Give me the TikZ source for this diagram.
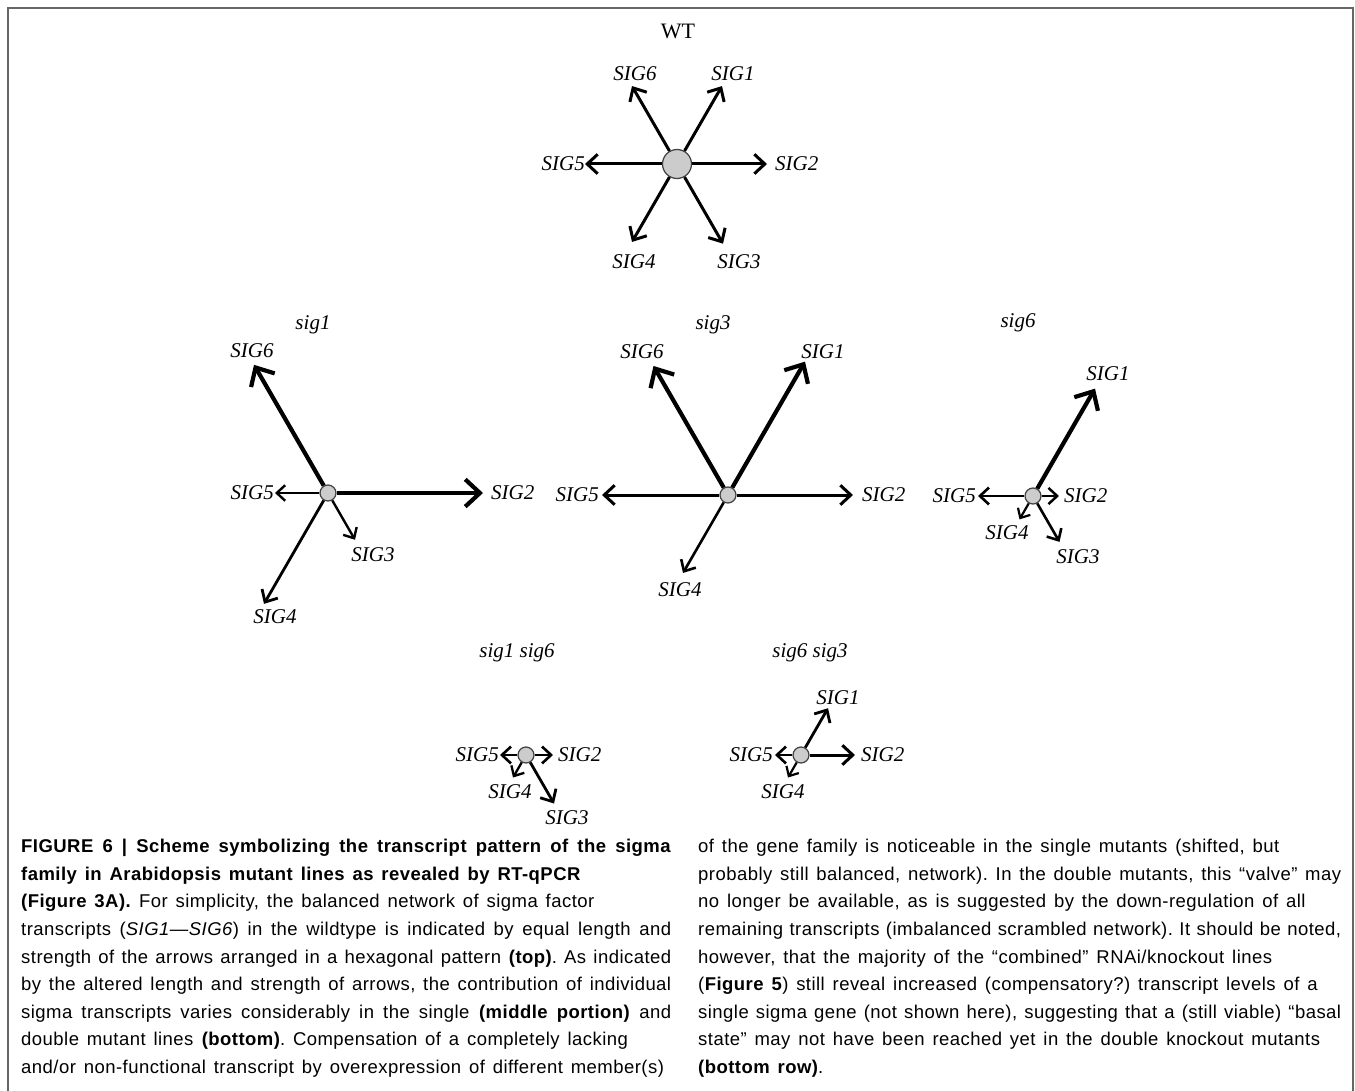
\documentclass[tikz,border=0pt]{standalone}
\usepackage{fontspec}
\setmainfont{Liberation Serif}
\newfontfamily\capfont[LetterSpace=2.5, WordSpace={1.4,1.5,2}]{Liberation Sans}
\usetikzlibrary{arrows.meta}
\tikzset {
    x=1pt, y=1pt,
    hub/.style={circle, draw=black!75, line width=1.2pt, fill=black!20, inner sep=0pt, minimum size=16pt},
    bighub/.style={hub, minimum size=29pt},
    ray/.style={line width=#1pt, -{Straight Barb[length=0pt 3.5, width=0pt 6.5]}},
    gene/.style={font=\fontsize{21}{21}\selectfont\itshape, inner sep=0pt},
    mutant/.style={font=\fontsize{21}{21}\selectfont\itshape, inner sep=0pt},
    frame/.style={draw=black!60, line width=2pt},
    caption/.style={anchor=north west, inner sep=0pt, align=justify,
        font=\capfont\fontsize{18.5}{27.6}\selectfont\frenchspacing}
}

\begin{document}
\begin{tikzpicture}
    \useasboundingbox (0,0) rectangle (1355,-1091);
    \draw[frame] (8,-1091) -- (8,-8) -- (1353,-8) -- (1353,-1091);

    % wildtype
    \node[mutant, font=\fontsize{22}{22}\selectfont] (wtname) at (678,-31) {WT};
    \node[hub, bighub] (wt) at (677,-164) {};
    \path (wt.center) ++(60:90) coordinate (wt1);
    \path (wt.center) ++(0:90) coordinate (wt2);
    \path (wt.center) ++(300:92) coordinate (wt3);
    \path (wt.center) ++(240:90) coordinate (wt4);
    \path (wt.center) ++(180:92) coordinate (wt5);
    \path (wt.center) ++(120:90) coordinate (wt6);
    \draw[ray=3] (wt) -- (wt1);
    \draw[ray=3] (wt) -- (wt2);
    \draw[ray=3] (wt) -- (wt3);
    \draw[ray=3] (wt) -- (wt4);
    \draw[ray=3] (wt) -- (wt5);
    \draw[ray=3] (wt) -- (wt6);
    \node[gene] (wtl1) at (733,-74) {SIG1};
    \node[gene, anchor=west] (wtl2) at (775,-164) {SIG2};
    \node[gene] (wtl3) at (739,-262) {SIG3};
    \node[gene] (wtl4) at (634,-262) {SIG4};
    \node[gene, anchor=east] (wtl5) at (585,-164) {SIG5};
    \node[gene] (wtl6) at (635,-74) {SIG6};

    % sig1
    \node[mutant] (s1name) at (313,-325) {sig1};
    \node[hub] (s1) at (328,-493) {};
    \path (s1.center) ++(0:155) coordinate (s1-2);
    \path (s1.center) ++(300:54) coordinate (s1-3);
    \path (s1.center) ++(240:128) coordinate (s1-4);
    \path (s1.center) ++(180:53) coordinate (s1-5);
    \path (s1.center) ++(120:148) coordinate (s1-6);
    \draw[ray=4.2] (s1) -- (s1-2);
    \draw[ray=2.4] (s1) -- (s1-3);
    \draw[ray=2.8] (s1) -- (s1-4);
    \draw[ray=2.4] (s1) -- (s1-5);
    \draw[ray=4.2] (s1) -- (s1-6);
    \node[gene, anchor=west] (s1l2) at (491,-493) {SIG2};
    \node[gene] (s1l3) at (373,-555) {SIG3};
    \node[gene] (s1l4) at (275,-617) {SIG4};
    \node[gene, anchor=east] (s1l5) at (274,-493) {SIG5};
    \node[gene] (s1l6) at (252,-351) {SIG6};

    % sig3
    \node[mutant] (s3name) at (713,-325) {sig3};
    \node[hub] (s3) at (728,-495) {};
    \path (s3.center) ++(60:154) coordinate (s3-1);
    \path (s3.center) ++(0:125) coordinate (s3-2);
    \path (s3.center) ++(240:90) coordinate (s3-4);
    \path (s3.center) ++(180:126) coordinate (s3-5);
    \path (s3.center) ++(120:149) coordinate (s3-6);
    \draw[ray=4.2] (s3) -- (s3-1);
    \draw[ray=3] (s3) -- (s3-2);
    \draw[ray=2.6] (s3) -- (s3-4);
    \draw[ray=3] (s3) -- (s3-5);
    \draw[ray=4.2] (s3) -- (s3-6);
    \node[gene] (s3l1) at (823,-352) {SIG1};
    \node[gene, anchor=west] (s3l2) at (862,-495) {SIG2};
    \node[gene] (s3l4) at (680,-590) {SIG4};
    \node[gene, anchor=east] (s3l5) at (599,-495) {SIG5};
    \node[gene] (s3l6) at (642,-352) {SIG6};

    % sig6
    \node[mutant] (s6name) at (1018,-323) {sig6};
    \node[hub] (s6) at (1033,-496) {};
    \path (s6.center) ++(60:124) coordinate (s6-1);
    \path (s6.center) ++(0:26) coordinate (s6-2);
    \path (s6.center) ++(300:53) coordinate (s6-3);
    \path (s6.center) ++(240:27) coordinate (s6-4);
    \path (s6.center) ++(180:55) coordinate (s6-5);
    \draw[ray=4.2] (s6) -- (s6-1);
    \draw[ray=2.5] (s6) -- (s6-2);
    \draw[ray=2.6] (s6) -- (s6-3);
    \draw[ray=2.2] (s6) -- (s6-4);
    \draw[ray=2.6] (s6) -- (s6-5);
    \node[gene] (s6l1) at (1108,-374) {SIG1};
    \node[gene, anchor=west] (s6l2) at (1064,-496) {SIG2};
    \node[gene] (s6l3) at (1078,-557) {SIG3};
    \node[gene] (s6l4) at (1007,-533) {SIG4};
    \node[gene, anchor=east] (s6l5) at (976,-496) {SIG5};

    % sig1 sig6
    \node[mutant] (s16name) at (517,-653) {sig1 sig6};
    \node[hub] (s16) at (526,-755) {};
    \path (s16.center) ++(0:27) coordinate (s16-2);
    \path (s16.center) ++(300:56) coordinate (s16-3);
    \path (s16.center) ++(240:26) coordinate (s16-4);
    \path (s16.center) ++(180:26) coordinate (s16-5);
    \draw[ray=2.6] (s16) -- (s16-2);
    \draw[ray=2.8] (s16) -- (s16-3);
    \draw[ray=2.3] (s16) -- (s16-4);
    \draw[ray=2.6] (s16) -- (s16-5);
    \node[gene, anchor=west] (s16l2) at (558,-755) {SIG2};
    \node[gene] (s16l3) at (567,-818) {SIG3};
    \node[gene] (s16l4) at (510,-792) {SIG4};
    \node[gene, anchor=east] (s16l5) at (499,-755) {SIG5};

    % sig6 sig3
    \node[mutant] (s63name) at (810,-653) {sig6 sig3};
    \node[hub] (s63) at (801,-755) {};
    \path (s63.center) ++(60:54) coordinate (s63-1);
    \path (s63.center) ++(0:54) coordinate (s63-2);
    \path (s63.center) ++(240:26) coordinate (s63-4);
    \path (s63.center) ++(180:26) coordinate (s63-5);
    \draw[ray=2.8] (s63) -- (s63-1);
    \draw[ray=3] (s63) -- (s63-2);
    \draw[ray=2.2] (s63) -- (s63-4);
    \draw[ray=2.6] (s63) -- (s63-5);
    \node[gene] (s63l1) at (838,-698) {SIG1};
    \node[gene, anchor=west] (s63l2) at (861,-755) {SIG2};
    \node[gene] (s63l4) at (783,-792) {SIG4};
    \node[gene, anchor=east] (s63l5) at (773,-755) {SIG5};

    % caption
    \node[caption, text width=650pt] (capleft) at (21,-839) {%
        \textbf{FIGURE 6 | Scheme symbolizing the transcript pattern of the sigma}\linebreak
        \textbf{family in Arabidopsis mutant lines as revealed by RT-qPCR}\newline
        \textbf{(Figure 3A).} For simplicity, the balanced network of sigma factor\newline
        transcripts (\textit{SIG1—SIG6}) in the wildtype is indicated by equal length and\linebreak
        strength of the arrows arranged in a hexagonal pattern \textbf{(top)}. As indicated\linebreak
        by the altered length and strength of arrows, the contribution of individual\linebreak
        sigma transcripts varies considerably in the single \textbf{(middle portion)} and\linebreak
        double mutant lines \textbf{(bottom)}. Compensation of a completely lacking\newline
        and/or non-functional transcript by overexpression of different member(s)};
    \node[caption, text width=643pt] (capright) at (698,-839) {%
        of the gene family is noticeable in the single mutants (shifted, but\newline
        probably still balanced, network). In the double mutants, this “valve” may\linebreak
        no longer be available, as is suggested by the down-regulation of all\newline
        remaining transcripts (imbalanced scrambled network). It should be noted,\linebreak
        however, that the majority of the “combined” RNAi/knockout lines\newline
        (\textbf{Figure 5}) still reveal increased (compensatory?) transcript levels of a\newline
        single sigma gene (not shown here), suggesting that a (still viable) “basal\linebreak
        state” may not have been reached yet in the double knockout mutants\newline
        \textbf{(bottom row)}.};
\end{tikzpicture}
\end{document}
